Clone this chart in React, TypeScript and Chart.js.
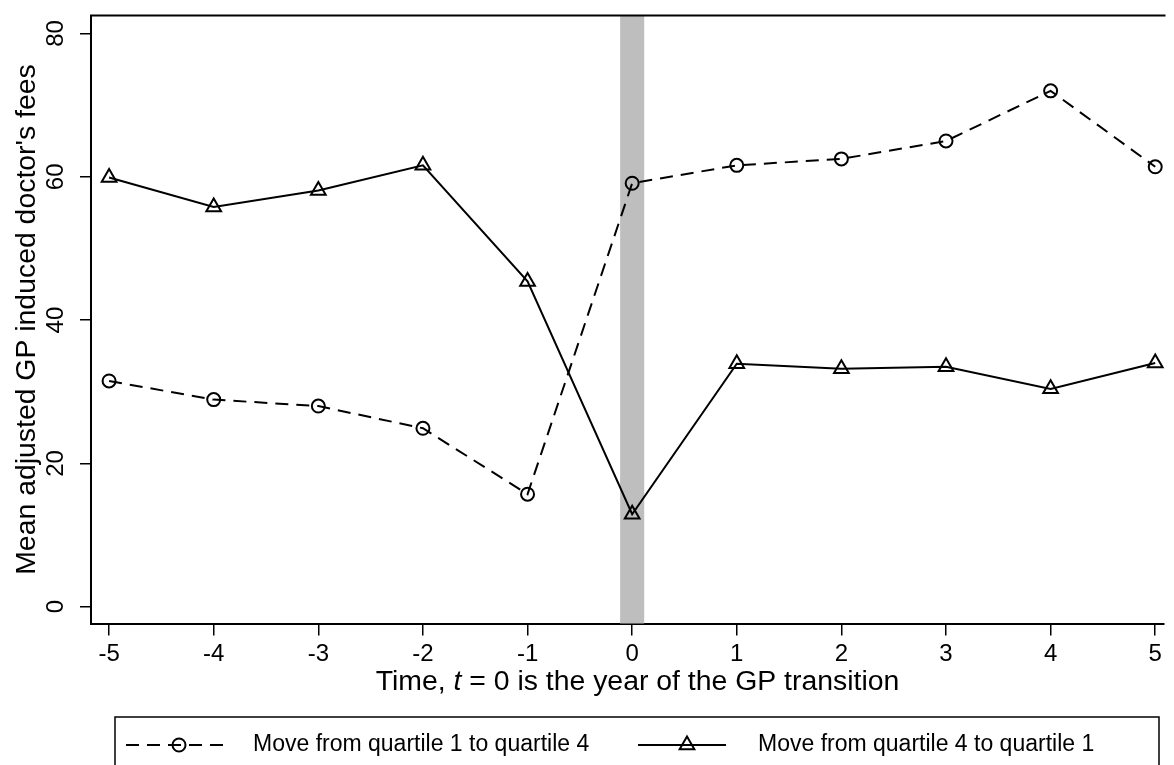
import React, { useEffect, useRef } from "react";
import { Chart, registerables } from "chart.js";

Chart.register(...registerables);

// ---- data ----
const years = [-5, -4, -3, -2, -1, 0, 1, 2, 3, 4, 5];
const moveQ1toQ4 = [31.5, 28.9, 28.0, 24.9, 15.7, 59.1, 61.6, 62.5, 65.0, 72.0, 61.4];
const moveQ4toQ1 = [59.9, 55.8, 58.1, 61.6, 45.4, 12.9, 33.9, 33.2, 33.5, 30.4, 34.0];
const xTickValues = [-5, -4, -3, -2, -1, 0, 1, 2, 3, 4, 5];
const yTickValues = [0, 20, 40, 60, 80];
const transitionBand = [-0.115, 0.115];
const seriesLabels = ["Move from quartile 1 to quartile 4", "Move from quartile 4 to quartile 1"];
const yAxisTitle = "Mean adjusted GP induced doctor's fees";
const xAxisTitleParts: [string, boolean][] = [
  ["Time, ", false],
  ["t", true],
  [" = 0 is the year of the GP transition", false],
];

const FONT = "'Liberation Sans', Arial, Helvetica, sans-serif";
const W = 1174;
const H = 765;
const TITLE_SIZE = 28.4;
const TICK_SIZE = 24;

const bandPlugin = {
  id: "band",
  beforeDatasetsDraw(chart: any) {
    const { ctx, chartArea, scales } = chart;
    const x1 = scales.x.getPixelForValue(transitionBand[0]);
    const x2 = scales.x.getPixelForValue(transitionBand[1]);
    ctx.save();
    ctx.fillStyle = "#bebebe";
    ctx.fillRect(x1, chartArea.top, x2 - x1, chartArea.bottom - chartArea.top);
    ctx.restore();
  },
};

const framePlugin = {
  id: "frame",
  afterDraw(chart: any) {
    const { ctx, chartArea } = chart;
    ctx.save();
    ctx.strokeStyle = "#000";
    ctx.lineWidth = 2;
    ctx.beginPath();
    ctx.moveTo(chartArea.left - 1, chartArea.top);
    ctx.lineTo(chartArea.right + 2, chartArea.top);
    ctx.stroke();
    ctx.restore();
  },
};

const titlesPlugin = {
  id: "titles",
  afterDraw(chart: any) {
    const { ctx, chartArea } = chart;
    const plotCenterX = 637.5;
    const plotCenterY = (chartArea.top + chartArea.bottom) / 2;
    ctx.save();
    ctx.fillStyle = "#000";
    ctx.textBaseline = "middle";

    // x axis title with italic t
    ctx.textAlign = "left";
    let total = 0;
    const widths = xAxisTitleParts.map(([t, it]) => {
      ctx.font = `${it ? "italic " : ""}${TITLE_SIZE}px ${FONT}`;
      const w = ctx.measureText(t).width;
      total += w;
      return w;
    });
    let x = plotCenterX - total / 2;
    xAxisTitleParts.forEach(([t, it], i) => {
      ctx.font = `${it ? "italic " : ""}${TITLE_SIZE}px ${FONT}`;
      ctx.fillText(t, x, 682);
      x += widths[i];
    });

    // y axis title
    ctx.save();
    ctx.translate(27, plotCenterY);
    ctx.rotate(-Math.PI / 2);
    ctx.font = `${TITLE_SIZE}px ${FONT}`;
    ctx.textAlign = "center";
    ctx.fillText(yAxisTitle, 0, 0);
    ctx.restore();

    ctx.restore();
  },
};

function drawMarker(ctx: CanvasRenderingContext2D, style: string, r: number, x: number, y: number) {
  ctx.beginPath();
  if (style === "triangle") {
    let rad = 0;
    ctx.moveTo(x + Math.sin(rad) * r, y - Math.cos(rad) * r);
    rad += (2 * Math.PI) / 3;
    ctx.lineTo(x + Math.sin(rad) * r, y - Math.cos(rad) * r);
    rad += (2 * Math.PI) / 3;
    ctx.lineTo(x + Math.sin(rad) * r, y - Math.cos(rad) * r);
    ctx.closePath();
  } else {
    ctx.arc(x, y, r, 0, Math.PI * 2);
  }
  ctx.stroke();
}

const legendPlugin = {
  id: "boxLegend",
  afterDraw(chart: any) {
    const { ctx } = chart;
    const box = { left: 115, top: 717, right: 1159, bottom: 773 };
    const cy = 745;
    const items = [
      { l1: 126, l2: 231, m: 179, t: 253 },
      { l1: 638, l2: 726, m: 687, t: 758 },
    ];
    ctx.save();
    ctx.strokeStyle = "#000";
    ctx.lineWidth = 1.5;
    ctx.strokeRect(box.left, box.top, box.right - box.left, box.bottom - box.top);
    chart.data.datasets.forEach((ds: any, i: number) => {
      const it = items[i];
      ctx.save();
      ctx.strokeStyle = ds.borderColor;
      ctx.lineWidth = ds.borderWidth;
      ctx.setLineDash(ds.borderDash || []);
      ctx.beginPath();
      ctx.moveTo(it.l1, cy);
      ctx.lineTo(it.l2, cy);
      ctx.stroke();
      ctx.setLineDash([]);
      ctx.lineWidth = ds.pointBorderWidth;
      drawMarker(ctx, ds.pointStyle, ds.pointRadius, it.m, cy);
      ctx.restore();
      ctx.fillStyle = "#000";
      ctx.font = `23px ${FONT}`;
      ctx.textBaseline = "middle";
      ctx.textAlign = "left";
      ctx.fillText(ds.label, it.t, cy);
    });
    ctx.restore();
  },
};

export default function App() {
  const canvasRef = useRef<HTMLCanvasElement | null>(null);

  useEffect(() => {
    if (!canvasRef.current) return;
    const chart = new Chart(canvasRef.current, {
      type: "line",
      data: {
        labels: years,
        datasets: [
          {
            label: seriesLabels[0],
            data: years.map((x, i) => ({ x, y: moveQ1toQ4[i] })),
            borderColor: "#000",
            borderWidth: 2,
            borderDash: [13, 8],
            pointStyle: "circle",
            pointRadius: 6.5,
            pointBorderWidth: 2,
            pointBorderColor: "#000",
            pointBackgroundColor: "rgba(0,0,0,0)",
            tension: 0,
            clip: false as any,
          },
          {
            label: seriesLabels[1],
            data: years.map((x, i) => ({ x, y: moveQ4toQ1[i] })),
            borderColor: "#000",
            borderWidth: 2,
            borderDash: [],
            pointStyle: "triangle",
            pointRadius: 8.5,
            pointBorderWidth: 2,
            pointBorderColor: "#000",
            pointBackgroundColor: "rgba(0,0,0,0)",
            tension: 0,
            clip: false as any,
          },
        ],
      },
      options: {
        animation: false,
        responsive: false,
        devicePixelRatio: 1,
        layout: { padding: { top: 15.6, left: 0, right: 0, bottom: 0 } },
        plugins: {
          legend: { display: false },
          tooltip: { enabled: false },
        },
        scales: {
          x: {
            type: "linear",
            min: -5.173,
            max: 5.079,
            afterFit: (s: any) => {
              s.height = H - 623.5;
              s.paddingLeft = 0;
              s.paddingRight = 0;
              s.paddingTop = 0;
              s.paddingBottom = 0;
            },
            afterBuildTicks: (s: any) => {
              s.ticks = xTickValues.map((v) => ({ value: v }));
            },
            grid: {
              display: true,
              drawOnChartArea: false,
              drawTicks: true,
              tickLength: 12,
              color: "#000",
              lineWidth: 1.5,
            },
            border: { display: true, color: "#000", width: 2 },
            ticks: {
              color: "#000",
              font: { family: FONT, size: TICK_SIZE },
              padding: 4,
              maxRotation: 0,
              minRotation: 0,
              autoSkip: false,
            },
          },
          y: {
            type: "linear",
            min: -2.35,
            max: 82.5,
            afterFit: (s: any) => {
              s.width = 91;
              s.paddingLeft = 0;
              s.paddingRight = 0;
              s.paddingTop = 0;
              s.paddingBottom = 0;
            },
            afterBuildTicks: (s: any) => {
              s.ticks = yTickValues.map((v) => ({ value: v }));
            },
            grid: {
              display: true,
              drawOnChartArea: false,
              drawTicks: true,
              tickLength: 11,
              color: "#000",
              lineWidth: 1.5,
            },
            border: { display: true, color: "#000", width: 2 },
            ticks: {
              color: "#000",
              font: { family: FONT, size: TICK_SIZE },
              padding: 10,
              minRotation: 90,
              maxRotation: 90,
              crossAlign: "center",
              autoSkip: false,
            },
          },
        },
      },
      plugins: [bandPlugin, framePlugin, titlesPlugin, legendPlugin],
    });
    return () => chart.destroy();
  }, []);

  return (
    <div style={{ position: "fixed", left: 0, top: 0, width: W, height: H, background: "#fff", overflow: "hidden" }}>
      <canvas ref={canvasRef} width={W} height={H} style={{ display: "block", width: W, height: H }} />
    </div>
  );
}
